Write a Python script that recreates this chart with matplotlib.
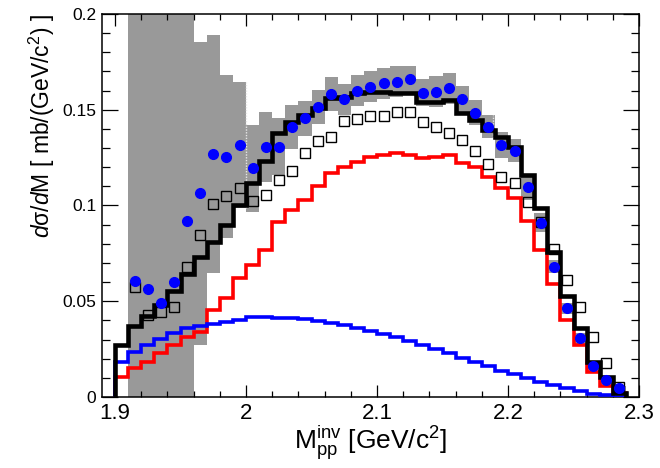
import numpy as np
import matplotlib
matplotlib.use("Agg")
import matplotlib.pyplot as plt
from matplotlib.ticker import MultipleLocator

plt.rcParams['font.family'] = ['Liberation Sans', 'DejaVu Sans']
plt.rcParams['mathtext.fontset'] = 'custom'
plt.rcParams['mathtext.rm'] = 'Liberation Sans'
plt.rcParams['mathtext.it'] = 'Liberation Sans:italic'

# 39 bins of 10 MeV between 1.90 and 2.29
bin_edges = 1.90 + 0.01 * np.arange(40)

model_total = [0.0272, 0.0372, 0.0425, 0.0480, 0.0555, 0.0640, 0.0730, 0.0810, 0.0900, 0.1000,
               0.1120, 0.1230, 0.1380, 0.1438, 0.1470, 0.1510, 0.1560, 0.1568, 0.1586, 0.1594,
               0.1594, 0.1588, 0.1586, 0.1538, 0.1541, 0.1550, 0.1485, 0.1446, 0.1394, 0.1360,
               0.1307, 0.1160, 0.0985, 0.0759, 0.0527, 0.0359, 0.0184, 0.0106, 0.0023]
model_red = [0.0106, 0.0150, 0.0184, 0.0228, 0.0270, 0.0315, 0.0340, 0.0454, 0.0515, 0.0620,
             0.0689, 0.0768, 0.0916, 0.0977, 0.1030, 0.1100, 0.1168, 0.1203, 0.1229, 0.1255,
             0.1264, 0.1273, 0.1264, 0.1246, 0.1255, 0.1264, 0.1220, 0.1200, 0.1150, 0.1090,
             0.1040, 0.0920, 0.0770, 0.0590, 0.0400, 0.0270, 0.0130, 0.0060, 0.0020]
model_blue = [0.0184, 0.0237, 0.0272, 0.0301, 0.0332, 0.0359, 0.0372, 0.0381, 0.0393, 0.0402,
              0.0416, 0.0418, 0.0414, 0.0410, 0.0405, 0.0398, 0.0388, 0.0376, 0.0362, 0.0346,
              0.0330, 0.0312, 0.0292, 0.0272, 0.0250, 0.0228, 0.0205, 0.0182, 0.0160, 0.0138,
              0.0118, 0.0098, 0.0080, 0.0062, 0.0046, 0.0032, 0.0018, 0.0008, 0.0002]

# measured points live in bins 1..38
data_x = 1.915 + 0.01 * np.arange(38)
data_y = [0.0607, 0.0562, 0.0493, 0.0602, 0.0921, 0.1063, 0.1269, 0.1255, 0.1316, 0.1194,
          0.1307, 0.1307, 0.1410, 0.1455, 0.1513, 0.1582, 0.1555, 0.1600, 0.1620, 0.1638,
          0.1647, 0.1659, 0.1589, 0.1594, 0.1612, 0.1555, 0.1485, 0.1410, 0.1316, 0.1286,
          0.1095, 0.0910, 0.0680, 0.0463, 0.0306, 0.0164, 0.0089, 0.0045]
data_sys = [0.25, 0.25, 0.25, 0.25, 0.25, 0.079, 0.062, 0.0425, 0.033, 0.0226,
            0.0183, 0.0148, 0.0115, 0.009, 0.009, 0.009, 0.008, 0.008, 0.008, 0.008,
            0.008, 0.007, 0.007, 0.008, 0.008, 0.007, 0.0065, 0.006, 0.007, 0.006,
            0.0065, 0.005, 0.0035, 0.003, 0.003, 0.002, 0.002, 0.0015]
sim_y = [0.0573, 0.0428, 0.0446, 0.0472, 0.0680, 0.0846, 0.1008, 0.1050, 0.1090, 0.1025,
         0.1055, 0.1135, 0.1182, 0.1273, 0.1338, 0.1356, 0.1443, 0.1450, 0.1469, 0.1469,
         0.1487, 0.1487, 0.1435, 0.1411, 0.1378, 0.1342, 0.1283, 0.1216, 0.1150, 0.1117,
         0.1020, 0.0916, 0.0771, 0.0611, 0.0468, 0.0312, 0.0176, 0.0051]

fig = plt.figure(figsize=(6.6, 4.68), dpi=100)
ax = fig.add_axes([0.1545, 0.1517, 0.8137, 0.8184])

# systematic band
dy = np.array(data_y)
ds = np.array(data_sys)
low = np.clip(dy - ds, 0, None)
high = dy + ds
ax.bar(data_x, high - low, bottom=low, width=0.01, color='#999999', linewidth=0, zorder=1)
# seams between the two halves of the band polygon
for i in (8, 27):
    ax.vlines(data_x[i] + 0.005 - 0.0015 * (i == 27), low[i], high[i], colors='#e6e6e6',
              linestyles=(0, (1, 1)), linewidth=1.0, zorder=2)

ax.stairs(model_red, bin_edges, baseline=0, color='red', linewidth=2.6, zorder=3)
ax.stairs(model_blue, bin_edges, baseline=0, color='blue', linewidth=2.6, zorder=3)
ax.stairs(model_total, bin_edges, baseline=0, color='black', linewidth=3.3, zorder=4)

ax.plot(data_x, sim_y, 's', ms=7.2, mfc='none', mec='black', mew=1.0, zorder=5)
ax.plot(data_x, data_y, 'o', ms=7, color='blue', mec='blue', zorder=6)

ax.set_xlim(1.89, 2.30)
ax.set_ylim(0, 0.2)
ax.xaxis.set_minor_locator(MultipleLocator(0.02))
ax.yaxis.set_minor_locator(MultipleLocator(0.01))
ax.set_xticks([1.9, 2.0, 2.1, 2.2, 2.3], ['1.9', '2', '2.1', '2.2', '2.3'])
ax.set_yticks([0, 0.05, 0.1, 0.15, 0.2], ['0', '0.05', '0.1', '0.15', '0.2'])

ax.tick_params(which='both', direction='in', top=True, right=True, width=0.9)
ax.tick_params(axis='x', which='major', length=8.3, pad=4, labelsize=16)
ax.tick_params(axis='x', which='minor', length=4.2)
ax.tick_params(axis='y', which='major', length=11.5, pad=4, labelsize=12.5)
ax.tick_params(axis='y', which='minor', length=5.8)
for sp in ax.spines.values():
    sp.set_linewidth(1.1)

ax.set_xlabel(r'M$_{\mathrm{pp}}^{\mathrm{inv}}$ [GeV/c$^{2}$]', fontsize=19, labelpad=0)
ax.set_ylabel(r'$d\mathrm{\sigma}/d$M [ mb/(GeV/c$^{2}$) ]', fontsize=16.5, loc='top', labelpad=4)

fig.savefig('out.png', dpi=100)
